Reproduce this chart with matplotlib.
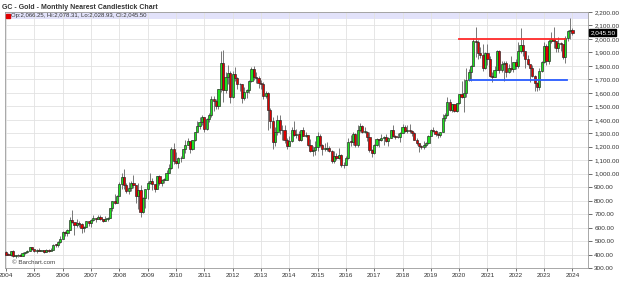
# Gold (GC) monthly candlestick chart, Barchart style
import numpy as np
import matplotlib.pyplot as plt
from matplotlib.ticker import FuncFormatter, MultipleLocator

plt.rcParams['font.family'] = ['Liberation Sans', 'DejaVu Sans']

# ---------------------------------------------------------------------------
# data: monthly candles Jan 2004 .. Jan 2024
years = [str(y) for y in range(2004, 2025)]

first_open = 416.0
closes = [
    399.8, 396.8, 426.7, 388.5, 394.4, 395.8, 391.4, 408.2, 420.4, 428.3, 453.4, 438.0,  # 2004
    422.6, 436.5, 429.8, 435.4, 417.3, 437.1, 429.8, 433.3, 473.3, 470.8, 495.7, 518.9,  # 2005
    569.6, 556.4, 584.0, 654.5, 644.5, 616.0, 634.2, 626.4, 598.7, 607.2, 648.4, 635.7,  # 2006
    652.6, 671.3, 663.0, 680.5, 660.4, 651.6, 665.5, 672.8, 743.0, 794.0, 783.0, 833.0,  # 2007
    923.3, 975.0, 916.2, 871.0, 891.0, 928.3, 918.0, 833.0, 880.8, 718.8, 816.2, 884.3,  # 2008
    927.3, 942.0, 923.8, 887.0, 979.4, 927.3, 953.7, 955.4, 1008.4, 1040.4, 1182.0, 1096.2,  # 2009
    1081.5, 1118.9, 1115.5, 1180.0, 1212.2, 1245.5, 1181.7, 1248.3, 1307.8, 1357.6, 1386.1, 1421.4,  # 2010
    1332.8, 1409.3, 1439.0, 1556.4, 1536.6, 1502.3, 1628.3, 1825.0, 1624.1, 1714.8, 1746.4, 1566.8,  # 2011
    1737.8, 1711.3, 1669.3, 1664.0, 1560.6, 1604.2, 1622.1, 1687.6, 1776.1, 1719.1, 1712.7, 1675.8,  # 2012
    1662.4, 1578.1, 1598.1, 1472.2, 1393.0, 1234.0, 1312.4, 1395.8, 1327.0, 1323.6, 1250.6, 1202.3,  # 2013
    1244.8, 1326.5, 1283.8, 1295.9, 1250.5, 1322.0, 1282.8, 1287.4, 1210.5, 1171.1, 1175.5, 1199.3,  # 2014
    1278.5, 1212.6, 1183.1, 1184.1, 1190.6, 1171.5, 1095.4, 1134.9, 1114.5, 1141.4, 1065.0, 1061.1,  # 2015
    1116.4, 1238.4, 1235.0, 1293.9, 1213.0, 1321.4, 1357.5, 1309.2, 1312.8, 1272.6, 1172.8, 1151.7,  # 2016
    1212.1, 1254.9, 1249.4, 1267.4, 1268.6, 1241.6, 1268.4, 1321.9, 1279.5, 1270.4, 1275.4, 1302.5,  # 2017
    1343.1, 1317.9, 1327.3, 1315.9, 1298.5, 1253.5, 1224.2, 1206.7, 1196.2, 1215.0, 1226.0, 1282.7,  # 2018
    1325.2, 1316.1, 1295.4, 1285.7, 1311.1, 1413.7, 1437.8, 1529.4, 1472.9, 1514.8, 1465.6, 1523.1,  # 2019
    1589.2, 1566.7, 1596.6, 1694.2, 1751.7, 1800.5, 1985.9, 1975.9, 1895.5, 1879.9, 1780.9, 1895.1,  # 2020
    1850.3, 1728.1, 1715.6, 1768.1, 1907.0, 1771.6, 1817.2, 1818.1, 1755.3, 1783.9, 1776.5, 1828.6,  # 2021
    1797.0, 1909.8, 1954.0, 1911.7, 1848.4, 1817.5, 1781.8, 1726.2, 1672.0, 1640.7, 1759.9, 1826.2,  # 2022
    1945.3, 1836.7, 1986.2, 1999.1, 1982.1, 1929.4, 1970.5, 1965.9, 1866.1, 2005.4, 2057.2, 2066.3,  # 2023
    2045.5,  # Jan 2024
]
highs = [
    427, 411, 428, 430, 397, 404, 404, 417, 421, 432, 457, 456,
    429, 444, 445, 437, 429, 441, 439, 447, 475, 479, 497, 540,
    572, 575, 587, 680, 732, 632, 667, 652, 634, 612, 650, 650,
    662, 692, 670, 693, 690, 667, 685, 678, 745, 795, 848, 843,
    935, 1003, 1033, 930, 939, 947, 988, 914, 934, 913, 825, 888,
    942, 1007, 965, 917, 981, 990, 959, 965, 1024, 1070, 1195, 1227,
    1163, 1127, 1134, 1182, 1249, 1265, 1213, 1249, 1309, 1388, 1424, 1432,
    1424, 1416, 1448, 1577, 1577, 1556, 1632, 1912, 1921, 1756, 1804, 1764,
    1764, 1792, 1720, 1676, 1668, 1640, 1632, 1692, 1790, 1798, 1755, 1727,
    1697, 1679, 1617, 1604, 1488, 1424, 1348, 1434, 1434, 1361, 1362, 1267,
    1280, 1345, 1392, 1331, 1315, 1327, 1346, 1312, 1288, 1255, 1206, 1239,
    1307, 1293, 1224, 1225, 1232, 1205, 1175, 1170, 1157, 1192, 1146, 1088,
    1128, 1264, 1287, 1306, 1304, 1362, 1377, 1359, 1344, 1318, 1306, 1181,
    1220, 1264, 1261, 1295, 1276, 1297, 1274, 1326, 1362, 1290, 1299, 1309,
    1366, 1364, 1365, 1369, 1326, 1309, 1266, 1218, 1214, 1243, 1237, 1284,
    1331, 1349, 1326, 1310, 1311, 1442, 1453, 1566, 1557, 1519, 1516, 1526,
    1593, 1691, 1704, 1788, 1775, 1804, 2005, 2089, 1993, 1941, 1966, 1903,
    1962, 1873, 1755, 1798, 1916, 1919, 1834, 1834, 1837, 1814, 1877, 1831,
    1853, 1976, 2078, 1998, 1873, 1880, 1789, 1808, 1735, 1683, 1786, 1833,
    1975, 1959, 2003, 2048, 2085, 1985, 2011, 1975, 1953, 2019, 2069, 2152,
    2078.31,
]
lows = [
    399, 393, 390, 385, 375, 385, 387, 388, 403, 414, 424, 431,
    418, 411, 424, 424, 415, 416, 419, 430, 434, 459, 457, 489,
    515, 540, 539, 582, 637, 542, 604, 606, 560, 567, 604, 613,
    608, 652, 640, 664, 653, 640, 650, 648, 672, 726, 775, 780,
    844, 890, 890, 853, 851, 868, 896, 786, 740, 681, 705, 745,
    811, 921, 880, 866, 884, 915, 909, 932, 951, 1002, 1035, 1075,
    1071, 1044, 1087, 1113, 1155, 1210, 1155, 1177, 1243, 1315, 1330, 1358,
    1309, 1324, 1381, 1422, 1462, 1478, 1480, 1603, 1534, 1602, 1668, 1523,
    1563, 1688, 1627, 1611, 1527, 1548, 1565, 1598, 1680, 1694, 1673, 1636,
    1627, 1554, 1565, 1321, 1339, 1180, 1208, 1284, 1293, 1251, 1226, 1181,
    1202, 1238, 1277, 1268, 1241, 1240, 1281, 1273, 1205, 1161, 1131, 1142,
    1167, 1197, 1142, 1170, 1170, 1162, 1077, 1078, 1098, 1111, 1053, 1045,
    1062, 1111, 1208, 1210, 1200, 1198, 1310, 1305, 1304, 1241, 1162, 1124,
    1146, 1206, 1195, 1243, 1214, 1237, 1204, 1267, 1272, 1260, 1265, 1236,
    1302, 1307, 1303, 1302, 1282, 1251, 1211, 1160, 1180, 1182, 1196, 1221,
    1278, 1313, 1281, 1267, 1271, 1306, 1391, 1427, 1465, 1461, 1455, 1461,
    1519, 1563, 1455, 1569, 1690, 1690, 1798, 1863, 1851, 1860, 1765, 1775,
    1803, 1717, 1677, 1721, 1767, 1750, 1752, 1688, 1721, 1746, 1762, 1753,
    1780, 1781, 1895, 1872, 1785, 1805, 1677, 1716, 1615, 1617, 1618, 1754,
    1823, 1809, 1813, 1969, 1932, 1900, 1902, 1913, 1848, 1823, 1984, 2003,
    2028.93,
]

# resistance / support lines drawn on the chart
resist_level = 2000
resist_span = [192, 237]
support_level = 1695
support_span = [196.5, 237.5]

# ---------------------------------------------------------------------------
closes = np.array(closes)
highs = np.array(highs, dtype=float)
lows = np.array(lows, dtype=float)
# each monthly candle opens where the previous one closed
opens = np.concatenate([[first_open], closes[:-1]])
x = np.arange(len(closes))
up = closes >= opens

fig = plt.figure(figsize=(6.19, 2.81), dpi=100)
ax = fig.add_axes([5 / 619, 13 / 281, 583 / 619, 256 / 281])

# grid
ax.set_axisbelow(True)
ax.grid(True, color='#e2e2e2', linewidth=0.6)

# legend band at the top of the plot
ax.axhspan(2145, 2200, color='#e2e2fa', zorder=0.5, linewidth=0)

# wicks
ax.vlines(x, lows, highs, color='#777777', linewidth=0.7, zorder=2)
# bodies
bottom = np.minimum(opens, closes)
height = np.maximum(np.abs(closes - opens), 4)
ax.bar(x[up], height[up], bottom=bottom[up], width=0.92, color='#1ee01e',
       edgecolor='#222222', linewidth=0.45, zorder=3)
ax.bar(x[~up], height[~up], bottom=bottom[~up], width=0.92, color='#e00000',
       edgecolor='#222222', linewidth=0.45, zorder=3)

# trend lines
ax.plot(resist_span, [resist_level, resist_level], color='#ff2a2a', linewidth=1.3, zorder=4)
ax.plot(support_span, [support_level, support_level], color='#2a5cff', linewidth=1.3, zorder=4)

# axes
ax.set_xlim(-0.45, 246.6)
ax.set_ylim(300, 2200)
ax.set_xticks(np.arange(0, len(years) * 12, 12))
ax.set_xticklabels(years)
ax.yaxis.set_major_locator(MultipleLocator(100))
ax.yaxis.set_major_formatter(FuncFormatter(lambda v, p: '{:,.2f}'.format(v)))
ax.yaxis.tick_right()
ax.tick_params(axis='y', length=3, width=0.5, pad=1.5, labelsize=4.6, colors='#333333')
ax.tick_params(axis='x', length=2, width=0.5, pad=1.5, labelsize=4.6, colors='#333333')
for s in ax.spines.values():
    s.set_color('#9a9a9a')
    s.set_linewidth(0.6)

# last price tag
last = closes[-1]
ax.text(1.004, last, '{:,.2f}'.format(last), transform=ax.get_yaxis_transform(),
        ha='left', va='center', fontsize=4.6, color='white',
        bbox=dict(boxstyle='square,pad=0.15', facecolor='black', edgecolor='black'))

# OHLC legend
ax.plot([0.9], [2172], marker='s', markersize=2.6, color='#e00000', linestyle='none', zorder=5)
ax.text(2.3, 2172, 'Op:2,066.25, Hi:2,078.31, Lo:2,028.93, Cl:2,045.50',
        fontsize=4.3, color='#333333', va='center', ha='left', zorder=5)

ax.text(2.5, 340, '© Barchart.com', fontsize=4.5, color='#444444', va='center', ha='left')

fig.text(0.003, 0.985, 'GC - Gold - Monthly Nearest Candlestick Chart',
         fontsize=5.0, fontweight='bold', color='#333333', ha='left', va='top')

fig.savefig('out.png', dpi=100)
